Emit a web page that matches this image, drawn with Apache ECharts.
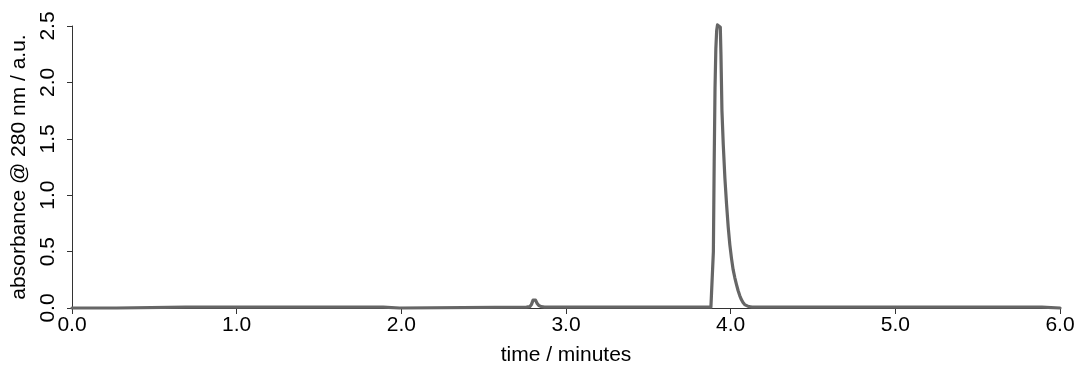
<!DOCTYPE html>
<html>
<head>
<meta charset="utf-8">
<script src="https://cdn.jsdelivr.net/npm/echarts@6/dist/echarts.min.js"></script>
<style>
html,body{margin:0;padding:0;background:#fff;}
#chart{width:1081px;height:366px;}
</style>
</head>
<body>
<div id="chart"></div>
<script>
// time (minutes)
const timeMin = [
  0.00, 0.27, 0.28, 0.69, 0.70, 0.71, 1.89, 1.90, 1.99, 2.00,
  2.76, 2.78, 2.79, 2.80, 2.807, 2.815, 2.825, 2.835, 2.85, 2.87,
  3.88, 3.89, 3.895, 3.90, 3.905, 3.91, 3.915, 3.92, 3.93, 3.937,
  3.941, 3.947, 3.955, 3.965, 3.975, 3.985, 3.995, 4.005, 4.015, 4.025,
  4.035, 4.045, 4.055, 4.065, 4.075, 4.085, 4.095, 4.11, 4.13, 5.89,
  5.90, 6.00
];
// absorbance @ 280 nm (a.u.)
const absorbance = [
  0.000, 0.000, 0.008, 0.008, 0.002, 0.008, 0.008, 0.000, 0.000, 0.008,
  0.008, 0.012, 0.030, 0.070, 0.082, 0.070, 0.040, 0.022, 0.012, 0.008,
  0.008, 0.020, 0.500, 1.300, 1.950, 2.300, 2.460, 2.510, 2.510, 2.490,
  2.250, 1.750, 1.450, 1.150, 0.920, 0.720, 0.560, 0.440, 0.340, 0.270,
  0.210, 0.155, 0.110, 0.075, 0.048, 0.030, 0.019, 0.012, 0.008, 0.008,
  0.000, 0.000
];
const xTicks = [0, 1, 2, 3, 4, 5, 6];
const yTicks = [0, 0.5, 1.0, 1.5, 2.0, 2.5];
const peakLabel = { text: 'BMTP', t: 3.54, v: 2.465 };
const xTitle = 'time / minutes';
const yTitle = 'absorbance @ 280 nm / a.u.';

const seriesData = timeMin.map((t, i) => [t, absorbance[i]]);
const FONT = "'Liberation Sans', Arial, Helvetica, sans-serif";

const chart = echarts.init(document.getElementById('chart'), null, {renderer: 'canvas'});
chart.setOption({
  animation: false,
  backgroundColor: '#ffffff',
  grid: { left: 72, right: 21, top: 26, bottom: 58, containLabel: false, outerBoundsMode: 'none' },
  xAxis: {
    type: 'value',
    min: xTicks[0], max: xTicks[xTicks.length - 1], interval: 1,
    offset: 1,
    name: xTitle, nameLocation: 'middle', nameGap: 36,
    nameTextStyle: { fontFamily: FONT, fontSize: 21, color: '#000' },
    axisLine: { show: true, lineStyle: { color: '#333', width: 1 } },
    axisTick: { show: true, length: 6, lineStyle: { color: '#333', width: 1 } },
    axisLabel: { fontFamily: FONT, fontSize: 21, color: '#000', margin: 6,
      formatter: v => v.toFixed(1) },
    splitLine: { show: false }
  },
  yAxis: {
    type: 'value',
    min: yTicks[0], max: yTicks[yTicks.length - 1], interval: 0.5,
    offset: 3,
    name: yTitle, nameLocation: 'middle', nameGap: 35, nameRotate: 90,
    nameTextStyle: { fontFamily: FONT, fontSize: 21, color: '#000' },
    axisLine: { show: true, lineStyle: { color: '#333', width: 1 } },
    axisTick: { show: true, length: 5, lineStyle: { color: '#333', width: 1 } },
    axisLabel: { fontFamily: FONT, fontSize: 21, color: '#000', rotate: 90, margin: 10,
      formatter: v => v.toFixed(1) },
    splitLine: { show: false }
  },
  series: [{
    type: 'line',
    data: seriesData,
    showSymbol: false,
    clip: false,
    lineStyle: { color: '#666666', width: 3.2, join: 'round', cap: 'round' },
    itemStyle: { color: '#666666' },
    markPoint: {
      symbol: 'circle', symbolSize: 1,
      itemStyle: { opacity: 0 },
      label: { show: true, position: 'inside', formatter: peakLabel.text,
        fontFamily: FONT, fontSize: 21, fontWeight: 'bold', color: '#000' },
      data: [{ coord: [peakLabel.t, peakLabel.v] }]
    }
  }]
});
</script>
</body>
</html>
